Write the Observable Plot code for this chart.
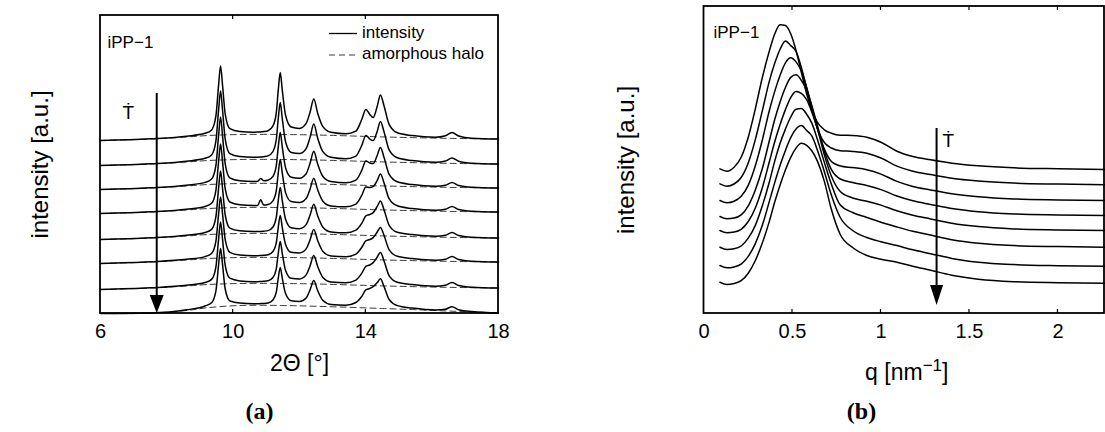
<!DOCTYPE html>
<html><head><meta charset="utf-8">
<script src="https://cdn.jsdelivr.net/npm/d3@7"></script>
<script src="https://cdn.jsdelivr.net/npm/@observablehq/plot@0.6"></script>
<style>
body{margin:0;background:#fff;}
#wrap{position:relative;width:1105px;height:432px;overflow:hidden;font-family:"Liberation Sans",Arial,sans-serif;}
#wrap > svg{position:absolute;top:0;overflow:visible;}
</style></head><body><div id="wrap"></div>
<script>
// ---------- Panel (a): WAXS, 2Theta [deg] ----------
const twoTheta = [6.0,7.5,8.6,9.15,9.35,9.48,9.56,9.62,9.68,9.76,9.9,10.2,10.6,10.74,10.83,10.92,11.05,11.2,11.3,11.36,11.42,11.48,11.58,11.75,12.0,12.2,12.32,12.43,12.55,12.7,12.95,13.4,13.7,13.88,14.0,14.12,14.22,14.34,14.44,14.55,14.7,14.95,15.4,16.1,16.4,16.6,16.8,17.2,18.0];
const waxs1 = [173,174.7,177.3,180.2,183.6,197.6,228.1,247.5,228.2,199.3,184.9,182,181.3,181.4,181.6,181.9,182.8,187.7,200.7,223.6,241,223.6,198.2,186.5,185.1,190.1,201.5,214.4,200.1,187.1,181.2,179.7,182.4,194.3,204.1,199,195.9,206.8,218.6,207.5,189.4,180.7,177.9,176.2,177.7,181.1,177.5,175.3,174.5];
const waxs2 = [148,149.7,152.3,155.2,158.6,172.6,203.1,222.5,203.2,174.3,159.9,157,156.3,156.3,156.4,156.8,157.6,162,174,195,211,195,171.7,161,159.9,164.9,176.4,189.4,175.1,162.1,156.2,154.7,157.4,168.3,178.1,174.5,172.9,181.8,192.1,181.5,163.9,155.7,152.9,151.2,152.5,155.6,152.3,150.3,149.5];
const waxs3 = [124,125.7,128.3,131.1,134.5,148.1,177.6,196.5,177.7,149.7,135.7,132.8,132.1,132.3,135,132.8,133.3,137.1,147.9,166.7,181,166.7,145.8,136.3,135.3,139.8,150.4,162.3,149.2,137.3,131.9,130.7,133.4,143.3,152.6,150.5,149.9,157.8,166.1,156,139.4,131.7,128.9,127.2,128.2,131.1,128,126.3,125.5];
const waxs4 = [100,101.7,104.3,107,110.2,123.2,151.5,169.5,151.6,124.8,111.5,108.7,108,108.1,113.7,108.4,109,112.7,122.8,140.6,154,140.6,120.9,111.9,110.9,114.9,124.6,135.2,123.4,112.6,107.6,106.7,109.4,118.3,126.6,126,126.9,132.8,139.6,130.5,114.9,107.7,104.9,103.2,104.2,107.1,104,102.3,101.5];
const waxs5 = [74,75.7,78.3,81,84.1,96.9,124.8,142.5,124.9,98.5,85.4,82.7,82,82,82.1,82.3,82.9,86.5,96.1,113.1,126,113.1,94.3,85.7,84.8,88.9,98.5,109.2,97.4,86.6,81.6,80.7,83.4,90.3,97.6,99,100.9,106.8,112.6,103.5,88.4,81.2,78.9,77.2,78.2,81.1,78,76.3,75.5];
const waxs6 = [50,51.7,54.2,56.9,60,72.4,99.3,116.5,99.4,73.9,61.2,58.5,57.8,57.8,58,58.2,58.7,62,70.7,86.2,98,86.2,69.1,61.2,60.5,64.6,73.8,84.1,72.8,62.3,57.5,56.7,59.4,66.3,72.6,74,75.9,81.3,86.1,78,63.9,57.2,54.9,53.2,54.2,57.1,54,52.3,51.5];
const waxs7 = [24,25.7,28.2,31,34.1,46.7,74,91.5,74.1,48.2,35.3,32.6,31.8,31.8,32,32.2,32.7,36,44.7,60.2,72,60.2,43.1,35.2,34.5,38.6,47.8,58.1,46.8,36.3,31.5,30.7,33.4,40.3,47.1,48.5,50.9,56.3,61.1,52.5,37.9,31.2,28.9,27.2,28.2,31.1,28,26.3,25.5];
const waxs8 = [0,0.5,3.7,7.5,10.8,22.7,48.5,64.9,48.8,24.5,12.6,10.4,9.8,9.8,9.9,10,10.5,13.4,21.3,35.4,46,35.4,19.9,12.7,11.9,15.4,23.7,32.9,22.7,13.3,9.1,8.3,11,17.3,23.6,25,26.8,30.7,34.7,26.9,14.2,7.9,5.4,3.5,4.3,6.8,3.8,1.9,0.5];

const haloTheta = [6,7.5,8.6,9.2,10.2,11.5,12.5,13.5,14.5,15.5,16.6,18];
const halo1 = [173,174.5,176.5,177.9,179,179,178.5,177.6,176.6,175.8,175.1,174.5];
const halo2 = [148,149.5,151.5,152.9,154,154,153.5,152.6,151.6,150.8,150.1,149.5];
const halo3 = [124,125.5,127.5,128.9,130,130,129.5,128.6,127.6,126.8,126.1,125.5];
const halo4 = [100,101.5,103.5,104.9,106,106,105.5,104.6,103.6,102.8,102.1,101.5];
const halo5 = [74,75.5,77.5,78.9,80,80,79.5,78.6,77.6,76.8,76.1,75.5];
const halo6 = [50,51.5,53.5,54.9,56,56,55.5,54.6,53.6,52.8,52.1,51.5];
const halo7 = [24,25.5,27.5,28.9,30,30,29.5,28.6,27.6,26.8,26.1,25.5];
const halo8 = [0,0.3,3,5.7,8,8,7.2,6.2,5,3.8,2.3,0.5];

const xTicksA = [6,10,14,18];
const xTickMarksA = [10,14];
const arrowA = {x: 7.71, from: 220, to: 0};
const tdotA = [{x: 6.84, y: 201}];

// ---------- Panel (b): SAXS, q [nm^-1] ----------
const qGrid = [0.09,0.13,0.17,0.21,0.25,0.29,0.33,0.37,0.40,0.43,0.46,0.49,0.52,0.55,0.58,0.61,0.64,0.68,0.72,0.77,0.84,0.92,1.0,1.09,1.18,1.28,1.4,1.55,1.75,2.0,2.27];
const saxs1 = [144.7,142.3,146.3,156.3,176.3,204.7,236.3,263,279.7,288.7,288,279.7,263,241.3,219.7,203,191.3,183.7,180.3,178.3,178,176.3,171.3,162.3,157,153.7,150.3,147.7,145.7,144.7,144];
const saxs2 = [129.7,127.3,129.5,136,150.6,173.9,203.1,232.9,250.4,264.3,272.6,267.9,262.1,246.1,225.6,203.8,185.6,171,165.5,162.8,162.1,160.2,155.5,147.4,142.3,138.9,135.2,132.4,130.4,129.4,128.7];
const saxs3 = [113,110.7,112.2,117.2,128.1,147.7,173.8,203.5,222.4,238.3,250.6,255.7,251.6,242.7,226,206.4,185.4,164.4,152,147.5,145.9,143.8,139.4,132.1,127.1,123.6,119.8,116.8,114.6,113.6,113];
const saxs4 = [97,94.7,95.4,98.6,107.7,123.6,145.2,173.3,194.3,211.6,226,236.1,238.7,233.2,223.1,207.3,188.5,162.5,143.8,134.5,131,128,123.9,117.5,112.7,109.1,105,101.8,99.6,98.6,98];
const saxs5 = [83,80.7,81.4,84.2,92,105.5,126,152.2,172,189,203.9,215.9,221.9,220.2,213.8,201.1,185.5,158.6,137.3,122,115.5,112.3,108.4,102.8,98.3,94.6,90.3,86.9,84.6,83.6,83];
const saxs6 = [66.3,64,64.7,67.5,75.3,88.1,107.9,132,152.6,170.3,184.4,196.5,204.3,205,199.3,190.1,174.5,151.1,129.2,108.5,101,96,91.2,86.5,82.2,78.4,73.8,70.2,67.9,66.9,66.3];
const saxs7 = [48,45.7,46.6,49.4,57.1,69.9,88.4,112.6,131.1,148.2,163.1,175.9,184.4,187.9,183,177.3,163.8,141.8,118.3,96,83,76,71.8,67.9,63.7,59.8,55.1,51.3,48.9,47.8,47.3];
const saxs8 = [31.3,29,30,32.8,40.3,53,70.7,92.6,111.7,128.6,143.5,156.2,165.4,170.2,168.2,162.5,152.6,132.1,104,79,66,58,54.3,51.3,47.3,43.3,38.3,34.3,31.8,30.8,30.3];

const xTicksB = [0,0.5,1,1.5,2];
const xTickMarksB = [0.5,1,1.5,2];
const arrowB = {x: 1.317, from: 185, to: 8};
const tdotB = [{x: 1.381, y: 173}];

// ---------- helpers ----------
const NS = "http://www.w3.org/2000/svg";
function el(tag, attrs, text) {
  const e = document.createElementNS(NS, tag);
  for (const k in attrs) e.setAttribute(k, attrs[k]);
  if (text != null) e.textContent = text;
  return e;
}
function toRows(xs, series) {
  const rows = [];
  series.forEach((arr, i) => arr.forEach((v, j) => rows.push({x: xs[j], y: v, c: i})));
  return rows;
}
function arrowMark(a, headLen, headW) {
  return (index, {x, y}) => {
    const g = el("g", {});
    const X = x(a.x), Y1 = y(a.from), Y2 = y(a.to);
    g.append(el("line", {x1: X, x2: X, y1: Y1, y2: Y2 - headLen + 1, stroke: "#000", "stroke-width": 2}));
    g.append(el("path", {d: `M${X - headW / 2},${Y2 - headLen}L${X + headW / 2},${Y2 - headLen}L${X},${Y2}Z`, fill: "#000"}));
    return g;
  };
}
function boxMark(tickValues, len) {
  return (index, {x}, values, dim) => {
    const L = dim.marginLeft, R = dim.width - dim.marginRight, T = dim.marginTop, B = dim.height - dim.marginBottom;
    const g = el("g", {stroke: "#000", fill: "none"});
    for (const t of tickValues) {
      const X = x(t);
      g.append(el("line", {x1: X, x2: X, y1: B, y2: B - len, "stroke-width": 1.2}));
      g.append(el("line", {x1: X, x2: X, y1: T, y2: T + len, "stroke-width": 1.2}));
    }
    g.append(el("rect", {x: L, y: T, width: R - L, height: B - T, "stroke-width": 1.8}));
    return g;
  };
}
const FONT = "Liberation Sans, Arial, Helvetica, sans-serif";
const SERIF = "Liberation Serif, Times New Roman, serif";
const wrap = document.getElementById("wrap");

// ---------- Plot (a) ----------
const plotA = Plot.plot({
  width: 540, height: 432,
  marginLeft: 100, marginRight: 42, marginTop: 15, marginBottom: 119,
  style: {fontFamily: FONT, background: "transparent", color: "#000", overflow: "visible"},
  x: {domain: [6, 18]},
  y: {domain: [0, 298], axis: null},
  marks: [
    Plot.line(toRows(haloTheta, [halo1, halo2, halo3, halo4, halo5, halo6, halo7, halo8]),
      {x: "x", y: "y", z: "c", stroke: "#222", strokeWidth: 0.9, strokeDasharray: "6,4", curve: "catmull-rom"}),
    Plot.line(toRows(twoTheta, [waxs1, waxs2, waxs3, waxs4, waxs5, waxs6, waxs7, waxs8]),
      {x: "x", y: "y", z: "c", stroke: "#000", strokeWidth: 1.5, curve: "monotone-x"}),
    Plot.axisX({ticks: xTicksA, tickSize: 0, tickPadding: 10, fontSize: 20, label: null, tickFormat: d => String(d)}),
    arrowMark(arrowA, 18, 14),
    Plot.text(tdotA, {x: "x", y: "y", text: () => "Ṫ", fontSize: 19}),
    Plot.text(["iPP−1"], {frameAnchor: "top-left", textAnchor: "start", dx: 7, dy: 20, fontSize: 17}),
    Plot.text(["2Θ [°]"], {frameAnchor: "bottom", dy: 57, fontSize: 23}),
    Plot.text(["intensity [a.u.]"], {frameAnchor: "left", textAnchor: "middle", rotate: -90, dx: -60, fontSize: 24}),
    Plot.text(["(a)"], {frameAnchor: "bottom", dx: -40, dy: 105, fontSize: 24, fontWeight: "bold", fontFamily: SERIF}),
    () => {
      const g = el("g", {"font-size": 17, "font-family": FONT, "text-anchor": "start", fill: "#000"});
      g.append(el("line", {x1: 329, x2: 357, y1: 33.5, y2: 33.5, stroke: "#000", "stroke-width": 1.3}));
      g.append(el("text", {x: 362, y: 34, "text-anchor": "start", "dominant-baseline": "middle"}, "intensity"));
      g.append(el("line", {x1: 329, x2: 357, y1: 55, y2: 55, stroke: "#222", "stroke-width": 0.9, "stroke-dasharray": "6,4"}));
      g.append(el("text", {x: 362, y: 55, "text-anchor": "start", "dominant-baseline": "middle"}, "amorphous halo"));
      return g;
    },
    boxMark(xTickMarksA, 4)
  ]
});
plotA.style.left = "0px";
wrap.append(plotA);

// ---------- Plot (b) ----------
const plotB = Plot.plot({
  width: 505, height: 432,
  marginLeft: 103.5, marginRight: 1, marginTop: 6, marginBottom: 119,
  style: {fontFamily: FONT, background: "transparent", color: "#000", overflow: "visible"},
  x: {domain: [0, 2.263]},
  y: {domain: [0, 307], axis: null},
  marks: [
    Plot.line(toRows(qGrid, [saxs1, saxs2, saxs3, saxs4, saxs5, saxs6, saxs7, saxs8]),
      {x: "x", y: "y", z: "c", stroke: "#000", strokeWidth: 1.5, curve: "monotone-x"}),
    Plot.axisX({ticks: xTicksB, tickSize: 0, tickPadding: 10, fontSize: 20, label: null, tickFormat: d => String(d)}),
    arrowMark(arrowB, 20, 13),
    Plot.text(tdotB, {x: "x", y: "y", text: () => "Ṫ", fontSize: 19}),
    Plot.text(["iPP−1"], {frameAnchor: "top-left", textAnchor: "start", dx: 9.5, dy: 19, fontSize: 17}),
    Plot.text(["intensity [a.u.]"], {frameAnchor: "left", textAnchor: "middle", rotate: -90, dx: -77.5, fontSize: 24}),
    Plot.text(["(b)"], {frameAnchor: "bottom", dx: -42.75, dy: 105, fontSize: 24, fontWeight: "bold", fontFamily: SERIF}),
    (index, scales, values, dim) => {
      const cx = (dim.marginLeft + dim.width - dim.marginRight) / 2 + 3;
      const t = el("text", {x: cx, y: 380, "text-anchor": "middle", "font-size": 23, "font-family": FONT, fill: "#000"});
      t.append(el("tspan", {}, "q [nm"));
      t.append(el("tspan", {dy: -9, "font-size": 17}, "−1"));
      t.append(el("tspan", {dy: 9}, "]"));
      return t;
    },
    boxMark(xTickMarksB, 4)
  ]
});
plotB.style.left = "600px";
wrap.append(plotB);
</script></body></html>
